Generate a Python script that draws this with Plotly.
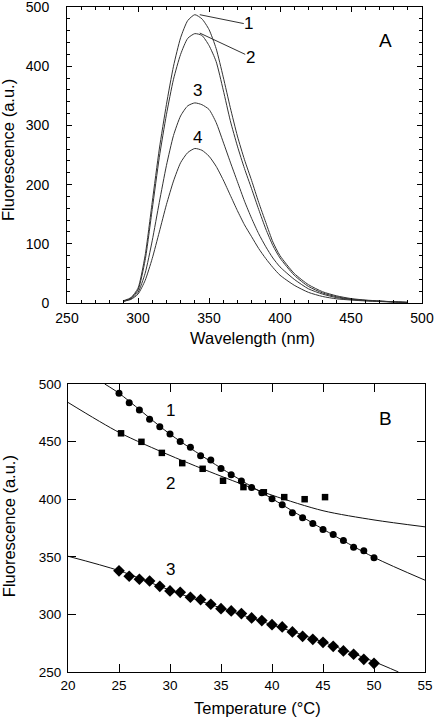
import plotly.graph_objects as go

# ---------------- Panel A data (emission spectra) ----------------
WAVELENGTH = [290, 295, 300, 305, 310, 315, 320, 325, 330, 335, 340, 345, 350, 355, 360, 365,
              370, 375, 380, 385, 390, 395, 400, 410, 420, 430, 440, 450, 460, 470, 480, 490]
SPEC_1 = [4, 9, 25, 80, 170, 260, 335, 400, 448, 477, 487, 480, 462, 430, 382, 330,
          282, 242, 207, 170, 136, 103, 80, 50, 31, 19, 12, 7.5, 5, 3.5, 2, 1]
SPEC_2 = [3, 8, 22, 72, 158, 246, 318, 378, 420, 447, 455, 452, 435, 408, 360, 308,
          265, 227, 193, 158, 125, 97, 76, 47, 28, 17, 10.5, 6.5, 4.5, 3, 2, 1]
SPEC_3 = [3, 7, 18, 50, 105, 170, 232, 283, 316, 333, 338, 335, 327, 305, 272, 238,
          205, 172, 143, 117, 95, 76, 61, 40, 24, 15, 9, 6, 4, 3, 2, 1]
SPEC_4 = [3, 6, 15, 38, 75, 120, 166, 206, 237, 254, 261, 258, 248, 231, 208, 182,
          156, 132, 112, 92, 75, 60, 47, 30, 18, 11, 7, 5, 3.5, 2.5, 1.5, 1]
SPEC_LABELS = ["1", "2", "3", "4"]

# ---------------- Panel B data (temperature dependence) ----------------
TEMP_1 = list(range(25, 51))
FLUO_1 = [491.9, 483.8, 477.4, 469.5, 462.8, 456.5, 450.0, 445.0, 437.8, 434.0, 426.7, 421.2, 415.8,
          410.2, 405.6, 400.3, 395.1, 388.2, 384.0, 378.9, 373.7, 369.4, 364.1, 358.3, 355.2, 349.1]
TEMP_2 = [25.2, 27.2, 29.2, 31.2, 33.2, 35.2, 37.2, 39.2, 41.2, 43.2, 45.2]
FLUO_2 = [457.2, 449.8, 440.2, 431.3, 426.4, 416.0, 410.5, 406.0, 401.8, 400.0, 401.8]
TEMP_3 = list(range(25, 51))
FLUO_3 = [337.8, 333.1, 330.5, 329.0, 324.4, 320.4, 319.2, 314.9, 312.9, 308.8, 305.0, 303.0, 300.7,
          296.9, 294.6, 291.1, 289.1, 284.8, 281.0, 278.4, 275.8, 272.3, 268.3, 265.4, 261.0, 257.5]

FIT_T1 = [23.6, 25, 30, 35, 40, 45, 50, 55]
FIT_F1 = [500, 492, 456.5, 427, 400.5, 374, 349.5, 329.7]
FIT_T2 = [20, 25, 30, 35, 40, 45, 50, 55]
FIT_F2 = [484, 458, 438, 420, 403.5, 390, 382, 376]
FIT_T3 = [20, 25, 30, 35, 40, 45, 50, 52.4]
FIT_F3 = [350.5, 338, 321, 305.5, 291, 276, 259, 250]

FONT = "Liberation Sans, Arial, sans-serif"
W, H = 435, 718

fig = go.Figure()

for spec in [SPEC_1, SPEC_2, SPEC_3, SPEC_4]:
    fig.add_trace(go.Scatter(x=WAVELENGTH, y=spec, mode="lines",
                             line=dict(color="#333333", width=1, shape="spline", smoothing=0.6),
                             xaxis="x", yaxis="y", showlegend=False, hoverinfo="skip"))

for t, f in [(FIT_T1, FIT_F1), (FIT_T2, FIT_F2), (FIT_T3, FIT_F3)]:
    fig.add_trace(go.Scatter(x=t, y=f, mode="lines",
                             line=dict(color="#111111", width=1, shape="spline", smoothing=0.8),
                             xaxis="x2", yaxis="y2", showlegend=False, hoverinfo="skip"))

fig.add_trace(go.Scatter(x=TEMP_1, y=FLUO_1, mode="markers", marker=dict(symbol="circle", size=7, color="black"),
                         xaxis="x2", yaxis="y2", showlegend=False))
fig.add_trace(go.Scatter(x=TEMP_2, y=FLUO_2, mode="markers", marker=dict(symbol="square", size=6.5, color="black"),
                         xaxis="x2", yaxis="y2", showlegend=False))
fig.add_trace(go.Scatter(x=TEMP_3, y=FLUO_3, mode="markers", marker=dict(symbol="diamond", size=9, color="black"),
                         xaxis="x2", yaxis="y2", showlegend=False))


def px_dom_x(a, b):
    return [a / W, b / W]


def px_dom_y(top, bottom):
    return [1 - bottom / H, 1 - top / H]


def axis_common(size):
    return dict(showgrid=False, zeroline=False, showline=True, linecolor="black", linewidth=1,
                mirror="ticks", ticks="inside", tickcolor="black", automargin=False,
                ticklabeloverflow="allow",
                tickfont=dict(family=FONT, size=size, color="black"))


fig.update_layout(
    width=W, height=H, margin=dict(l=0, r=0, t=0, b=0, autoexpand=False),
    paper_bgcolor="white", plot_bgcolor="white",
    font=dict(family=FONT, color="black"),
    xaxis=dict(domain=px_dom_x(67, 422), range=[250, 500], dtick=50, ticklen=5,
               minor=dict(dtick=10, ticklen=3, ticks="inside", tickcolor="black"),
               anchor="y", ticklabelstandoff=2, **axis_common(14)),
    yaxis=dict(domain=px_dom_y(7, 303), range=[0, 500], dtick=100, ticklen=5,
               minor=dict(dtick=20, ticklen=3, ticks="inside", tickcolor="black"),
               anchor="x", ticklabelstandoff=14, **axis_common(14)),
    xaxis2=dict(domain=px_dom_x(68, 425), range=[20, 55], dtick=5, ticklen=8,
                anchor="y2", ticklabelstandoff=1, **axis_common(13.5)),
    yaxis2=dict(domain=px_dom_y(384, 672), range=[250, 500], dtick=50, ticklen=8,
                anchor="x2", ticklabelstandoff=3, **axis_common(13.5)),
)

ann = []
C = dict(showarrow=False, xanchor="center", yanchor="middle")
# axis titles
ann.append(dict(text="Wavelength (nm)", x=252 / W, y=1 - 338 / H, xref="paper", yref="paper",
                font=dict(size=16.5), **C))
ann.append(dict(text="Fluorescence (a.u.)", x=8.5 / W, y=1 - 150.5 / H, xref="paper", yref="paper",
                textangle=-90, font=dict(size=16.5), **C))
ann.append(dict(text="Temperature (°C)", x=257.5 / W, y=1 - 708 / H, xref="paper", yref="paper",
                font=dict(size=16.5), **C))
ann.append(dict(text="Fluorescence (a.u.)", x=8.5 / W, y=1 - 526.7 / H, xref="paper", yref="paper",
                textangle=-90, font=dict(size=16.5), **C))

# panel A labels
for txt, x, y in zip(SPEC_LABELS, [377.6, 379.3, 341.9, 341.9], [471.8, 413.9, 359, 280]):
    ann.append(dict(text=txt, x=x, y=y, xref="x", yref="y", font=dict(size=17), **C))
ann.append(dict(text="A", x=474, y=443.6, xref="x", yref="y", font=dict(size=19), **C))
# panel B labels
for txt, x, y in [("1", 30, 477.4), ("2", 30, 413.7), ("3", 30, 339)]:
    ann.append(dict(text=txt, x=x, y=y, xref="x2", yref="y2", font=dict(size=17), **C))
ann.append(dict(text="B", x=51.1, y=470.2, xref="x2", yref="y2", font=dict(size=19), **C))
fig.update_layout(annotations=ann)

# leader lines in panel A
fig.add_shape(type="line", x0=343.5, y0=487, x1=374.5, y1=472, xref="x", yref="y",
              line=dict(color="#333333", width=1))
fig.add_shape(type="line", x0=343.5, y0=456, x1=375.5, y1=420, xref="x", yref="y",
              line=dict(color="#333333", width=1))

fig.write_html("out.html", config={"displayModeBar": False},
               post_script="document.body.style.margin='0px';document.body.style.overflow='hidden';")
